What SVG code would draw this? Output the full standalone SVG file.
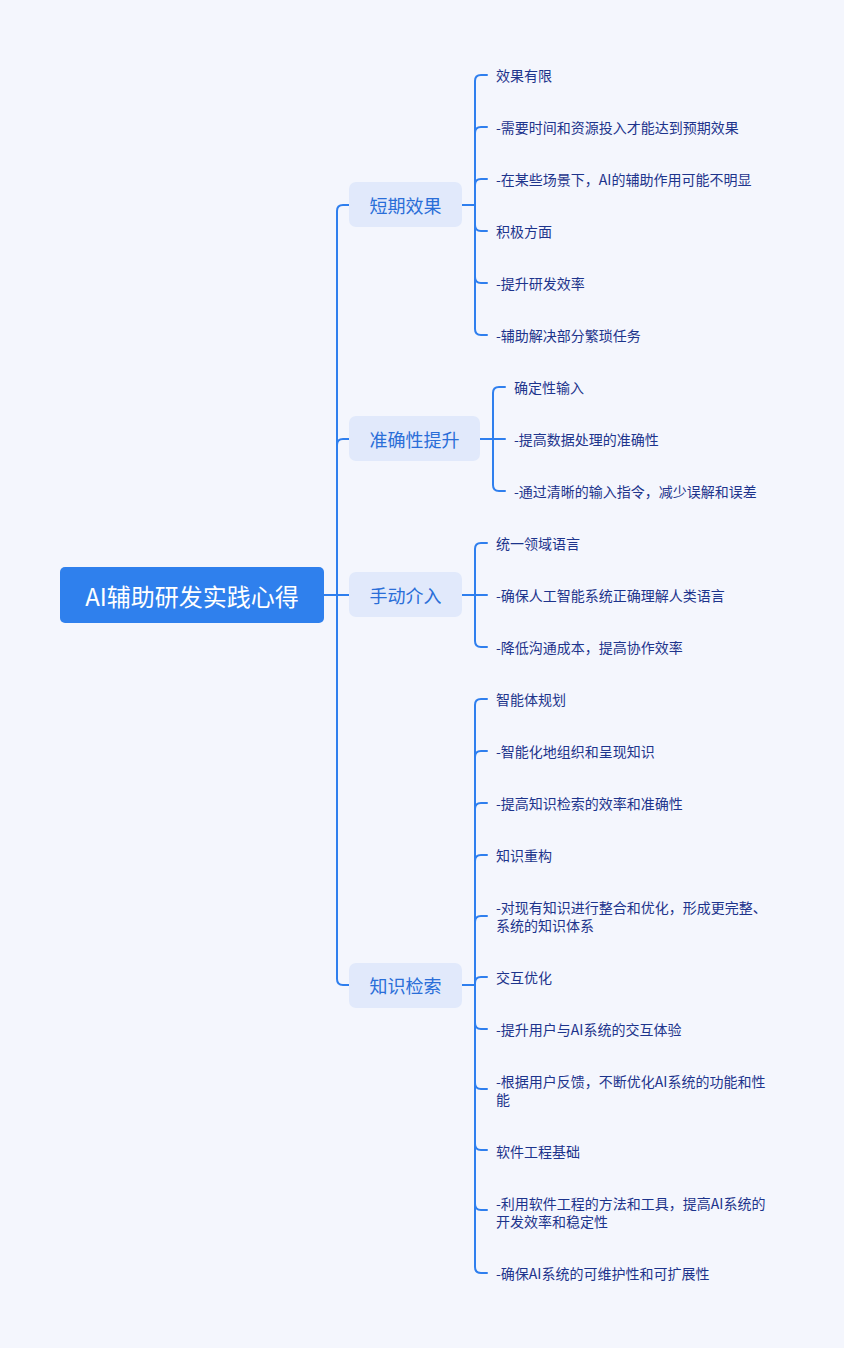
<svg xmlns="http://www.w3.org/2000/svg" width="844" height="1348" viewBox="0 0 844 1348">
<style>
.bg{fill:#f4f6fd}
.root rect{fill:#2f80ed}
.root text{fill:#ffffff;font-size:24px}
.br rect{fill:#e1e9fb}
.br text{fill:#2a6ed8;font-size:18px}
text{font-family:"Noto Sans CJK SC","Noto Sans",sans-serif;dominant-baseline:central}
.lf text{fill:#1d348c;font-size:14px}
.c path{fill:none;stroke:#2f7fee;stroke-width:2;stroke-linecap:round}
</style>
<rect class="bg" x="0" y="0" width="844" height="1348"/>
<g class="c" id="connectors">
<path d="M324,595 H349"/>
<path d="M349,205 H343 Q337,205 337,211 V979 Q337,985 343,985 H349"/>
<path d="M337,445 Q337,439 343,439 H349"/>
<path d="M462,205 H475"/>
<path d="M487,75 H481 Q475,75 475,81 V329 Q475,335 481,335 H487"/>
<path d="M475,133 Q475,127 481,127 H487"/>
<path d="M475,185 Q475,179 481,179 H487"/>
<path d="M475,225 Q475,231 481,231 H487"/>
<path d="M475,277 Q475,283 481,283 H487"/>
<path d="M480,439 H505"/>
<path d="M505,387 H499 Q493,387 493,393 V485 Q493,491 499,491 H505"/>
<path d="M462,595 H487"/>
<path d="M487,543 H481 Q475,543 475,549 V641 Q475,647 481,647 H487"/>
<path d="M462,985 H475"/>
<path d="M487,699 H481 Q475,699 475,705 V1267 Q475,1273 481,1273 H487"/>
<path d="M475,757 Q475,751 481,751 H487"/>
<path d="M475,809 Q475,803 481,803 H487"/>
<path d="M475,861 Q475,855 481,855 H487"/>
<path d="M475,922 Q475,916 481,916 H487"/>
<path d="M475,983 Q475,977 481,977 H487"/>
<path d="M475,1023 Q475,1029 481,1029 H487"/>
<path d="M475,1083 Q475,1089 481,1089 H487"/>
<path d="M475,1144 Q475,1150 481,1150 H487"/>
<path d="M475,1204 Q475,1210 481,1210 H487"/>
</g>
<g class="root" id="root">
<rect x="60" y="567" width="264" height="56" rx="5"/>
<text x="192" y="595" text-anchor="middle">AI辅助研发实践心得</text>
</g>
<g class="br" id="b1"><rect x="349" y="182" width="113" height="45" rx="7"/><text x="405.5" y="205" text-anchor="middle">短期效果</text></g>
<g class="br" id="b2"><rect x="349" y="416" width="131" height="45" rx="7"/><text x="414.5" y="439" text-anchor="middle">准确性提升</text></g>
<g class="br" id="b3"><rect x="349" y="572" width="113" height="45" rx="7"/><text x="405.5" y="595" text-anchor="middle">手动介入</text></g>
<g class="br" id="b4"><rect x="349" y="963" width="113" height="45" rx="7"/><text x="405.5" y="985" text-anchor="middle">知识检索</text></g>
<g class="lf" id="l1"><text x="496" y="75">效果有限</text></g>
<g class="lf" id="l2"><text x="496" y="127">-需要时间和资源投入才能达到预期效果</text></g>
<g class="lf" id="l3"><text x="496" y="179">-在某些场景下，AI的辅助作用可能不明显</text></g>
<g class="lf" id="l4"><text x="496" y="231">积极方面</text></g>
<g class="lf" id="l5"><text x="496" y="283">-提升研发效率</text></g>
<g class="lf" id="l6"><text x="496" y="335">-辅助解决部分繁琐任务</text></g>
<g class="lf" id="l7"><text x="514" y="387">确定性输入</text></g>
<g class="lf" id="l8"><text x="514" y="439">-提高数据处理的准确性</text></g>
<g class="lf" id="l9"><text x="514" y="491">-通过清晰的输入指令，减少误解和误差</text></g>
<g class="lf" id="l10"><text x="496" y="543">统一领域语言</text></g>
<g class="lf" id="l11"><text x="496" y="595">-确保人工智能系统正确理解人类语言</text></g>
<g class="lf" id="l12"><text x="496" y="647">-降低沟通成本，提高协作效率</text></g>
<g class="lf" id="l13"><text x="496" y="699">智能体规划</text></g>
<g class="lf" id="l14"><text x="496" y="751">-智能化地组织和呈现知识</text></g>
<g class="lf" id="l15"><text x="496" y="803">-提高知识检索的效率和准确性</text></g>
<g class="lf" id="l16"><text x="496" y="855">知识重构</text></g>
<g class="lf" id="l17"><text x="496" y="907">-对现有知识进行整合和优化，形成更完整、</text><text x="496" y="925">系统的知识体系</text></g>
<g class="lf" id="l18"><text x="496" y="977">交互优化</text></g>
<g class="lf" id="l19"><text x="496" y="1029">-提升用户与AI系统的交互体验</text></g>
<g class="lf" id="l20"><text x="496" y="1081">-根据用户反馈，不断优化AI系统的功能和性</text><text x="496" y="1099">能</text></g>
<g class="lf" id="l21"><text x="496" y="1151">软件工程基础</text></g>
<g class="lf" id="l22"><text x="496" y="1203">-利用软件工程的方法和工具，提高AI系统的</text><text x="496" y="1221">开发效率和稳定性</text></g>
<g class="lf" id="l23"><text x="496" y="1273">-确保AI系统的可维护性和可扩展性</text></g>
</svg>
